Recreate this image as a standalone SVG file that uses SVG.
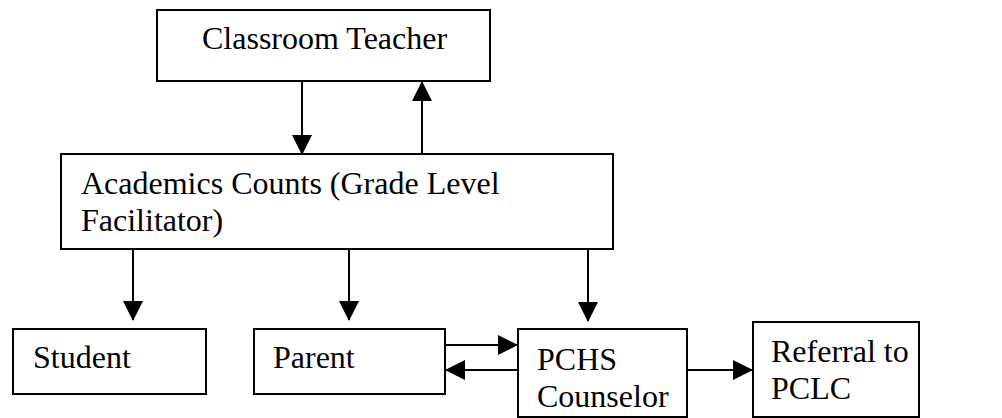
<svg xmlns="http://www.w3.org/2000/svg" width="1002" height="418" viewBox="0 0 1002 418">
<style>
.box{fill:#fff;stroke:#000;stroke-width:2}
.t{font-family:"Liberation Serif","Times New Roman",serif;font-size:32px;fill:#000}
.c{stroke:#000;stroke-width:2;fill:none}
</style>
<defs>
<marker id="ah" markerUnits="userSpaceOnUse" markerWidth="20" markerHeight="20" refX="19" refY="10" orient="auto">
<path d="M0,0 L20,10 L0,20 Z" fill="#000"/>
</marker>
</defs>
<g id="teacher">
<rect class="box" x="157" y="10" width="333" height="71"/>
<text class="t" x="202" y="49">Classroom Teacher</text>
</g>
<g id="academics">
<rect class="box" x="61" y="154" width="552" height="95"/>
<text class="t" x="81" y="194">Academics Counts (Grade Level</text>
<text class="t" x="81" y="231">Facilitator)</text>
</g>
<g id="student">
<rect class="box" x="13" y="329" width="193" height="65"/>
<text class="t" x="33" y="368">Student</text>
</g>
<g id="parent">
<rect class="box" x="254" y="329" width="191" height="65"/>
<text class="t" x="273" y="368">Parent</text>
</g>
<g id="counselor">
<rect class="box" x="518" y="329" width="169" height="88"/>
<text class="t" x="537" y="370">PCHS</text>
<text class="t" x="537" y="407">Counselor</text>
</g>
<g id="referral">
<rect class="box" x="753" y="322" width="166" height="95"/>
<text class="t" x="771" y="362">Referral to</text>
<text class="t" x="771" y="399">PCLC</text>
</g>
<g id="connectors">
<line class="c" x1="302" y1="81" x2="302" y2="154" marker-end="url(#ah)"/>
<line class="c" x1="422" y1="154" x2="422" y2="82" marker-end="url(#ah)"/>
<line class="c" x1="133" y1="249" x2="133" y2="320" marker-end="url(#ah)"/>
<line class="c" x1="349" y1="249" x2="349" y2="320" marker-end="url(#ah)"/>
<line class="c" x1="588" y1="249" x2="588" y2="321" marker-end="url(#ah)"/>
<line class="c" x1="445" y1="345" x2="517" y2="345" marker-end="url(#ah)"/>
<line class="c" x1="518" y1="370" x2="446" y2="370" marker-end="url(#ah)"/>
<line class="c" x1="687" y1="370" x2="752" y2="370" marker-end="url(#ah)"/>
</g>
</svg>
